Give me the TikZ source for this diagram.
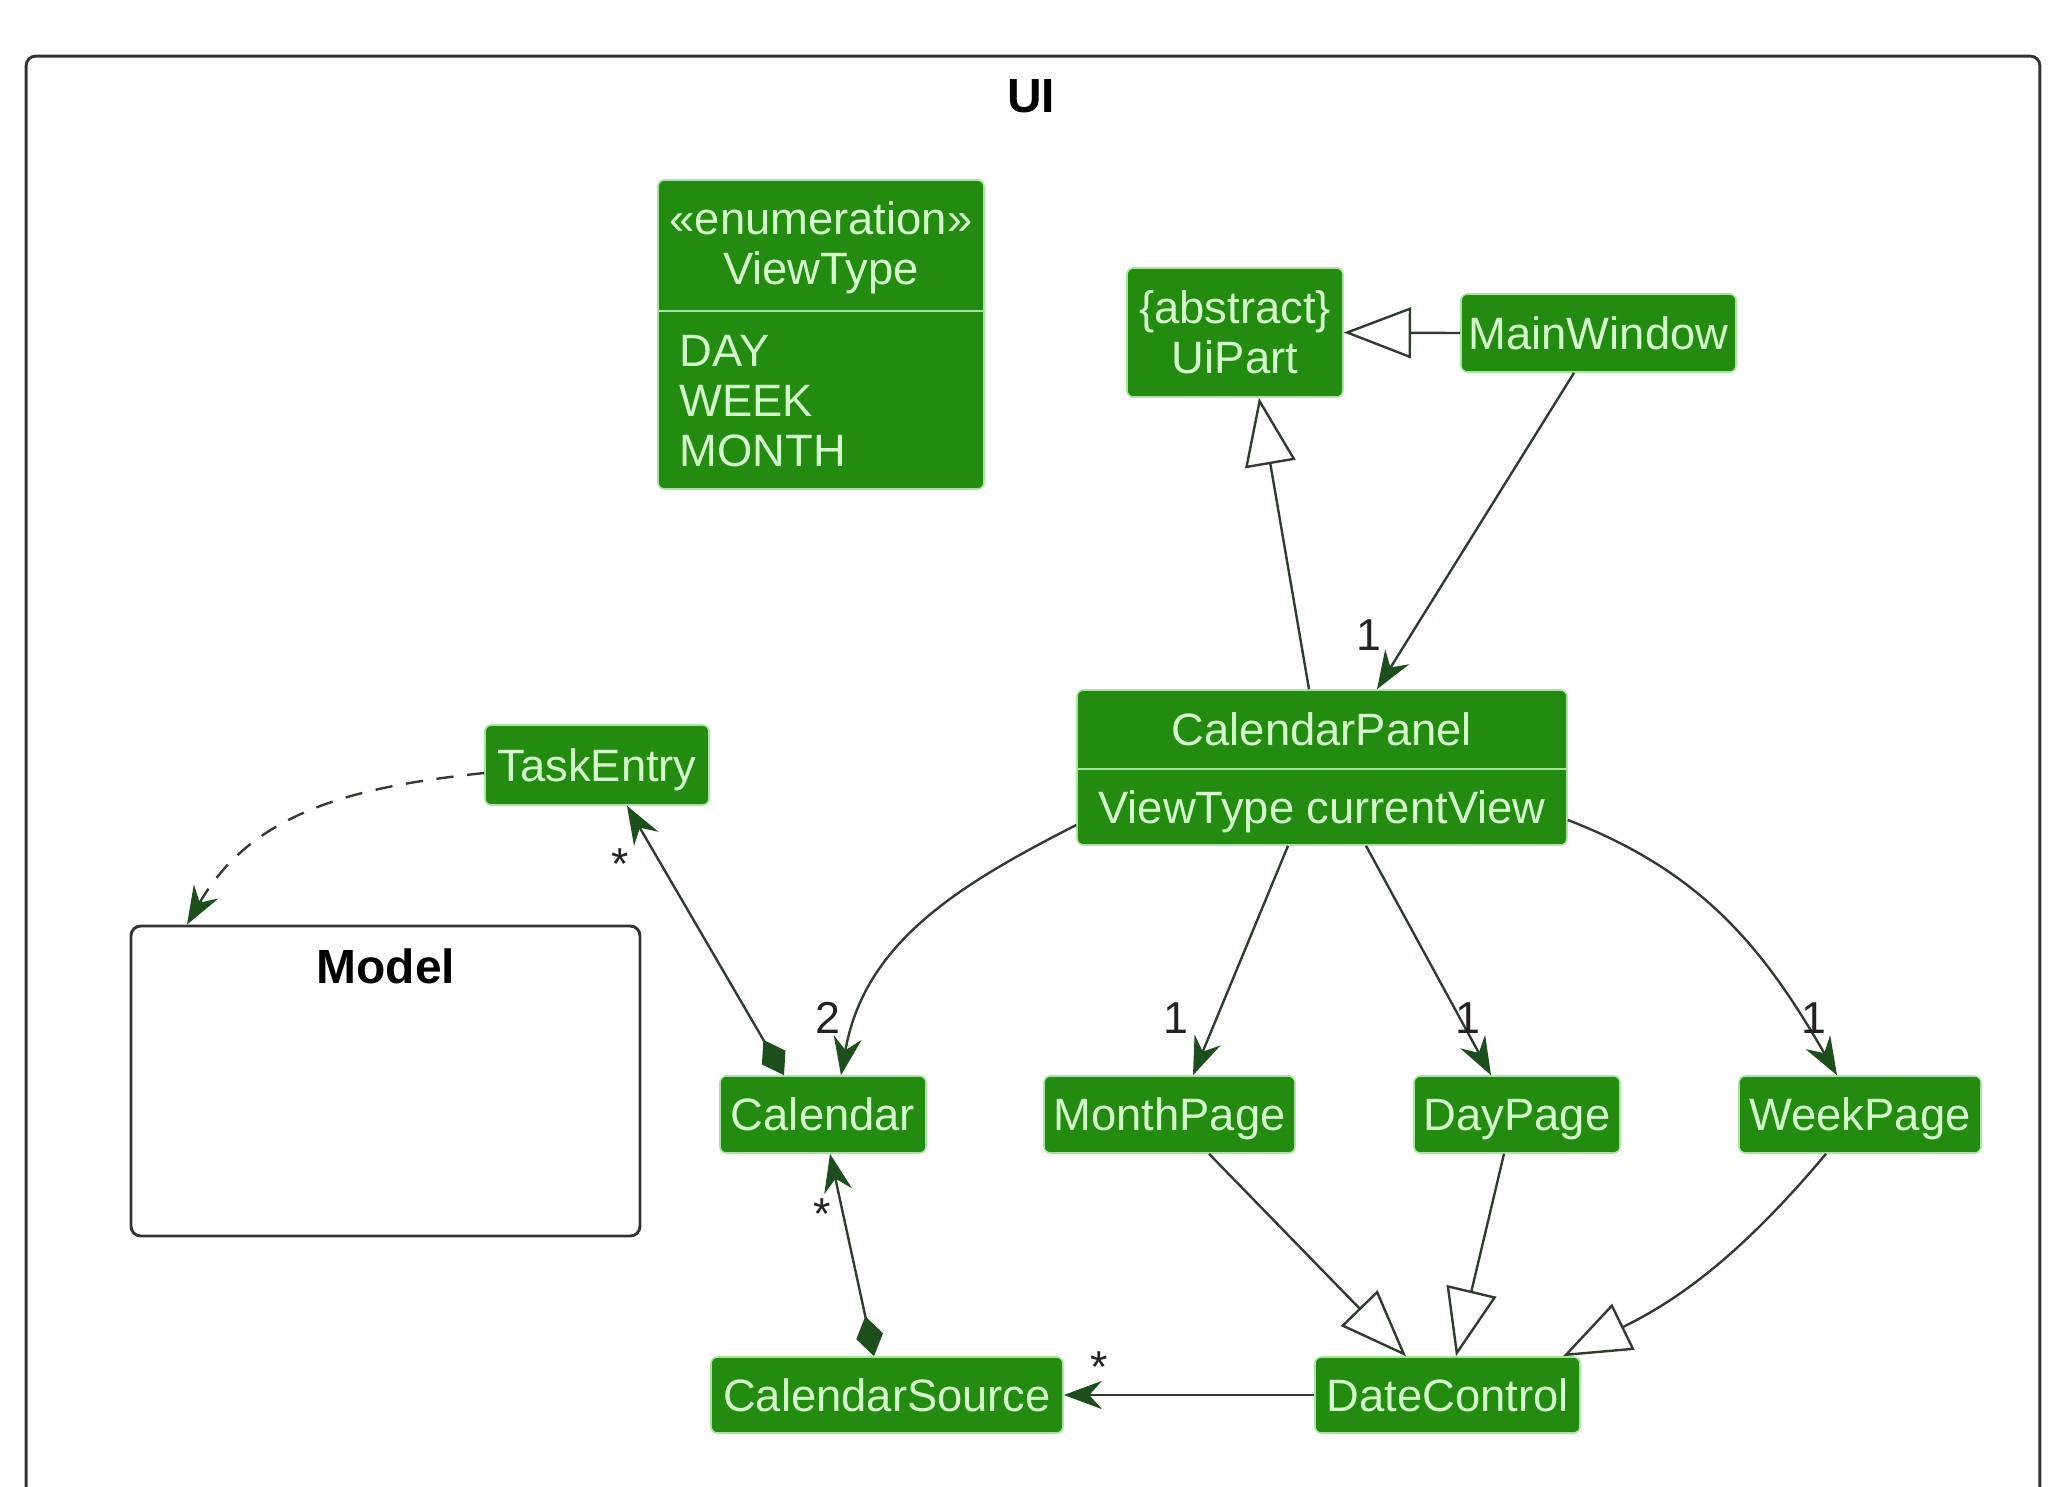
\documentclass[tikz,border=0pt]{standalone}
\usepackage{fontspec}
\setmainfont{Liberation Sans}
\usetikzlibrary{arrows.meta}

\definecolor{boxfill}{HTML}{228B10}
\definecolor{boxedge}{HTML}{A8E6A0}
\definecolor{boxtext}{HTML}{D4FFCC}
\definecolor{edgecol}{HTML}{2E3D2E}
\definecolor{headcol}{HTML}{1C4F1C}
\definecolor{framecol}{HTML}{333333}
\definecolor{labelcol}{HTML}{222222}

\begin{document}
\begin{tikzpicture}[x=0.011cm,y=-0.011cm,
      cls/.style={rectangle,rounded corners=2pt,draw=boxedge,line width=0.5pt,fill=boxfill,
        text=boxtext,font=\fontsize{14.2}{15.65}\selectfont,inner sep=0pt,
        minimum height=0.847cm,text height=10.2pt,text depth=0pt},
      txt/.style={text=boxtext,font=\fontsize{14.2}{15.65}\selectfont,inner sep=0pt},
      row/.style={txt,text height=10.2pt,text depth=0pt},
      sep/.style={draw=boxedge,line width=0.6pt},
      pkg/.style={rectangle,rounded corners=3pt,draw=framecol,line width=0.9pt},
      ttl/.style={font=\fontsize{15}{18}\selectfont\bfseries,inner sep=0pt,text height=10.7pt,text depth=0pt},
      mul/.style={text=labelcol,font=\fontsize{14}{16}\selectfont,inner sep=0pt,text height=10pt,text depth=0pt},
      assoc/.style={draw=edgecol,line width=0.75pt,-{Stealth[length=0.42cm,width=0.31cm,inset=0.14cm,color=headcol]}},
      gen/.style={draw=edgecol,line width=0.75pt,-{Triangle[open,length=0.74cm,width=0.56cm,fill=white]}},
      comp/.style={draw=edgecol,line width=0.75pt,{Diamond[length=0.45cm,width=0.3cm,color=headcol]}-{Stealth[length=0.42cm,width=0.31cm,inset=0.14cm,color=headcol]}},
      dep/.style={assoc,dash pattern=on 0.19cm off 0.15cm}]
    \useasboundingbox (0,0) rectangle (2060,1486);
    \clip (0,0) rectangle (2060,1486);
    % packages
    \node[pkg,minimum width=22.154cm,minimum height=16.104cm] (ui) at (1033,788) {};
    \node[ttl] (uititle) at (1031,95) {UI};
    \node[pkg,minimum width=5.599cm,minimum height=3.41cm] (model) at (385.5,1081) {};
    \node[ttl] (modeltitle) at (386,966) {Model};
    % classes
    \node[cls,minimum width=3.586cm,minimum height=3.399cm] (viewtype) at (821,334.5) {};
    \node[txt,align=center] (vthead) at (821,248) {«enumeration»\\ViewType};
    \draw[sep] (viewtype.west |- 0,311) -- (viewtype.east |- 0,311);
    \node[txt,align=left,anchor=west] (vtvals) at (679,401) {DAY\\WEEK\\MONTH};
    \node[cls,minimum width=2.376cm,minimum height=1.419cm] (uipart) at (1235,332.5) {};
    \node[txt,align=center] (uiparthead) at (1235,332) {\{abstract\}\\UiPart};
    \node[cls,minimum width=3.025cm,minimum height=0.858cm] (mainwin) at (1598.5,333) {MainWindow};
    \node[cls,minimum width=5.39cm,minimum height=1.705cm] (calpanel) at (1322,767.5) {};
    \node[row] (calpanelname) at (1322,729) {CalendarPanel};
    \draw[sep] (calpanel.west |- 0,769) -- (calpanel.east |- 0,769);
    \node[row] (calpanelattr) at (1322,807) {ViewType currentView};
    \node[cls,minimum width=2.464cm,minimum height=0.88cm] (taskentry) at (597,765) {TaskEntry};
    \node[cls,minimum width=2.266cm] (calendar) at (823,1114.5) {Calendar};
    \node[cls,minimum width=2.761cm] (monthpage) at (1169.5,1114.5) {MonthPage};
    \node[cls,minimum width=2.266cm] (daypage) at (1517,1114.5) {DayPage};
    \node[cls,minimum width=2.662cm] (weekpage) at (1860,1114.5) {WeekPage};
    \node[cls,minimum width=3.872cm,minimum height=0.836cm] (calsource) at (887,1395) {CalendarSource};
    \node[cls,minimum width=2.915cm,minimum height=0.836cm] (datectl) at (1447.5,1395) {DateControl};
    % relations
    \draw[gen] (mainwin.west) -- (uipart.east);
    \draw[gen] (calpanel.north -| 1309,0) -- (uipart.south -| 1259,0);
    \draw[assoc] (mainwin.south -| 1574,0) -- node[mul,pos=1,xshift=-0.09cm,yshift=0.605cm]{1} (calpanel.north -| 1377,0);
    \draw[assoc] (calpanel.west |- 0,825) to[out=207,in=80] node[mul,pos=1,xshift=-0.14cm,yshift=0.64cm]{2} (calendar.north -| 841,0);
    \draw[assoc] (calpanel.south -| 1288,0) -- node[mul,pos=1,xshift=-0.19cm,yshift=0.64cm]{1} (monthpage.north -| 1193,0);
    \draw[assoc] (calpanel.south -| 1366,0) -- node[mul,pos=1,xshift=-0.25cm,yshift=0.64cm]{1} (daypage.north -| 1491,0);
    \draw[assoc] (calpanel.east |- 0,820) to[out=-21,in=120] node[mul,pos=1,xshift=-0.25cm,yshift=0.64cm]{1} (weekpage.north -| 1837,0);
    \draw[dep] (taskentry.west |- 0,773) to[out=186,in=60] (model.north -| 187,0);
    \draw[comp] (calendar.north -| 784,0) -- node[mul,pos=1,xshift=-0.077cm,yshift=-0.64cm]{*} (taskentry.south -| 627,0);
    \draw[comp] (calsource.north -| 874,0) -- node[mul,pos=1,xshift=-0.088cm,yshift=-0.66cm]{*} (calendar.south -| 830,0);
    \draw[assoc] (datectl.west) -- node[mul,pos=1,xshift=0.385cm,yshift=0.31cm]{*} (calsource.east);
    \draw[gen] (monthpage.south -| 1209,0) -- (datectl.north -| 1406,0);
    \draw[gen] (daypage.south -| 1504,0) -- (datectl.north -| 1456,0);
    \draw[gen] (weekpage.south -| 1826,0) to[out=230,in=26] (datectl.north -| 1563,0);
  \end{tikzpicture}
\end{document}
